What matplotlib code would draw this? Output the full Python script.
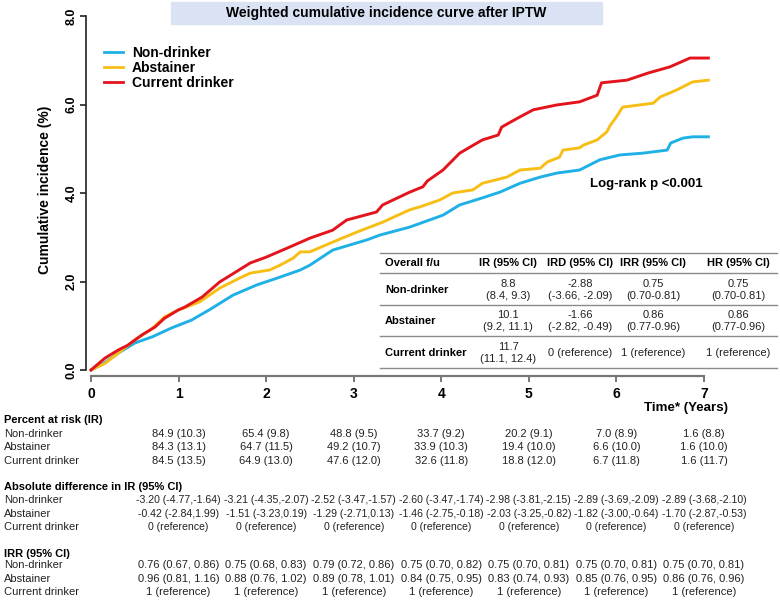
import matplotlib
matplotlib.use("Agg")
import matplotlib.pyplot as plt
from matplotlib.patches import Rectangle
from matplotlib.lines import Line2D
from matplotlib.transforms import blended_transform_factory

plt.rcParams['font.family'] = ['Liberation Sans', 'DejaVu Sans']

# curve readings (years, cumulative incidence %)
t_non = [0, 0.16, 0.31, 0.50, 0.70, 0.92, 1.15, 1.36, 1.62, 1.89, 2.16, 2.39, 2.50, 2.76,
         3.15, 3.30, 3.64, 4.02, 4.21, 4.47, 4.67, 4.90, 5.13, 5.32, 5.58, 5.81, 6.04,
         6.30, 6.58, 6.62, 6.76, 6.87, 7.05]
y_non = [0, 0.17, 0.38, 0.61, 0.75, 0.95, 1.13, 1.37, 1.69, 1.92, 2.10, 2.26, 2.37, 2.71,
         2.94, 3.05, 3.23, 3.50, 3.73, 3.89, 4.02, 4.22, 4.36, 4.45, 4.52, 4.75, 4.86,
         4.90, 4.97, 5.13, 5.24, 5.27, 5.27]

t_abs = [0, 0.16, 0.31, 0.50, 0.70, 0.84, 0.99, 1.15, 1.24, 1.47, 1.70, 1.82, 2.04, 2.16,
         2.31, 2.39, 2.50, 2.76, 3.04, 3.33, 3.64, 3.76, 3.98, 4.13, 4.36, 4.47, 4.75,
         4.90, 5.13, 5.21, 5.35, 5.39, 5.58, 5.62, 5.78, 5.89, 5.93, 6.00, 6.07, 6.42,
         6.50, 6.69, 6.87, 7.05]
y_abs = [0, 0.15, 0.38, 0.68, 0.94, 1.20, 1.35, 1.47, 1.54, 1.85, 2.08, 2.19, 2.26, 2.37,
         2.53, 2.67, 2.67, 2.89, 3.12, 3.34, 3.62, 3.69, 3.84, 4.00, 4.07, 4.22, 4.36,
         4.52, 4.56, 4.70, 4.81, 4.97, 5.02, 5.08, 5.20, 5.38, 5.53, 5.72, 5.94, 6.03,
         6.17, 6.33, 6.51, 6.55]

t_cur = [0, 0.16, 0.31, 0.42, 0.58, 0.73, 0.84, 1.00, 1.07, 1.27, 1.47, 1.82, 2.00, 2.27,
         2.50, 2.76, 2.92, 3.26, 3.33, 3.64, 3.79, 3.84, 4.02, 4.21, 4.33, 4.47, 4.65,
         4.69, 4.87, 5.05, 5.32, 5.58, 5.78, 5.83, 6.12, 6.36, 6.61, 6.84, 7.05]
y_cur = [0, 0.27, 0.45, 0.56, 0.79, 0.97, 1.17, 1.36, 1.42, 1.65, 1.99, 2.42, 2.55, 2.78,
         2.98, 3.16, 3.39, 3.57, 3.73, 4.02, 4.14, 4.27, 4.52, 4.90, 5.04, 5.20, 5.31,
         5.49, 5.69, 5.88, 5.99, 6.06, 6.21, 6.49, 6.55, 6.71, 6.85, 7.05, 7.05]

groups = ['Non-drinker', 'Abstainer', 'Current drinker']
colors = ['#1FB1E6', '#F7BE16', '#E3141C']

years = [1, 2, 3, 4, 5, 6, 7]

# overall table
tbl_header = ['Overall f/u', 'IR (95% CI)', 'IRD (95% CI)', 'IRR (95% CI)', 'HR (95% CI)']
tbl_ir = ['8.8\n(8.4, 9.3)', '10.1\n(9.2, 11.1)', '11.7\n(11.1, 12.4)']
tbl_ird = ['-2.88\n(-3.66, -2.09)', '-1.66\n(-2.82, -0.49)', '0 (reference)']
tbl_irr = ['0.75\n(0.70-0.81)', '0.86\n(0.77-0.96)', '1 (reference)']
tbl_hr = ['0.75\n(0.70-0.81)', '0.86\n(0.77-0.96)', '1 (reference)']

# tables under the plot
risk_non = ['84.9 (10.3)', '65.4 (9.8)', '48.8 (9.5)', '33.7 (9.2)', '20.2 (9.1)', '7.0 (8.9)', '1.6 (8.8)']
risk_abs = ['84.3 (13.1)', '64.7 (11.5)', '49.2 (10.7)', '33.9 (10.3)', '19.4 (10.0)', '6.6 (10.0)', '1.6 (10.0)']
risk_cur = ['84.5 (13.5)', '64.9 (13.0)', '47.6 (12.0)', '32.6 (11.8)', '18.8 (12.0)', '6.7 (11.8)', '1.6 (11.7)']

diff_non = ['-3.20 (-4.77,-1.64)', '-3.21 (-4.35,-2.07)', '-2.52 (-3.47,-1.57)', '-2.60 (-3.47,-1.74)',
            '-2.98 (-3.81,-2.15)', '-2.89 (-3.69,-2.09)', '-2.89 (-3.68,-2.10)']
diff_abs = ['-0.42 (-2.84,1.99)', '-1.51 (-3.23,0.19)', '-1.29 (-2.71,0.13)', '-1.46 (-2.75,-0.18)',
            '-2.03 (-3.25,-0.82)', '-1.82 (-3.00,-0.64)', '-1.70 (-2.87,-0.53)']
diff_cur = ['0 (reference)'] * 7

irr_non = ['0.76 (0.67, 0.86)', '0.75 (0.68, 0.83)', '0.79 (0.72, 0.86)', '0.75 (0.70, 0.82)',
           '0.75 (0.70, 0.81)', '0.75 (0.70, 0.81)', '0.75 (0.70, 0.81)']
irr_abs = ['0.96 (0.81, 1.16)', '0.88 (0.76, 1.02)', '0.89 (0.78, 1.01)', '0.84 (0.75, 0.95)',
           '0.83 (0.74, 0.93)', '0.85 (0.76, 0.95)', '0.86 (0.76, 0.96)']
irr_cur = ['1 (reference)'] * 7

W, H = 780, 601
fig = plt.figure(figsize=(W / 100, H / 100), dpi=100)


def fx(px):
    return px / W


def fy(py):
    return 1 - py / H


ax = fig.add_axes([fx(86), fy(376), fx(712) - fx(86), fy(14) - fy(376)])
ax.set_xlim(-5 / 87.57, (712 - 91) / 87.57)
ax.set_ylim(-6 / 44.25, (370 - 14) / 44.25)

for t, y, c, g in zip([t_non, t_abs, t_cur], [y_non, y_abs, y_cur], colors, groups):
    ax.plot(t, y, color=c, lw=2.1, label=g)

for s in ['top', 'right']:
    ax.spines[s].set_visible(False)
ax.spines['left'].set_bounds(0, 8)
ax.spines['bottom'].set_bounds(0, 7)
ax.spines['left'].set_color('#222222')
ax.spines['bottom'].set_color('#777777')
ax.spines['left'].set_linewidth(1.2)
ax.spines['bottom'].set_linewidth(1.6)

ax.set_yticks([0, 2, 4, 6, 8])
ax.set_yticklabels(['0.0', '2.0', '4.0', '6.0', '8.0'], rotation=90, va='center',
                   fontweight='bold', fontsize=9)
ax.set_xticks([0] + years)
ax.set_xticklabels([str(v) for v in [0] + years], fontweight='bold', fontsize=10)
ax.tick_params(axis='y', direction='out', length=4, width=1.2, color='#222222', pad=2)
ax.tick_params(axis='x', direction='out', length=4, width=1.4, color='#777777', pad=4)

leg = ax.legend(loc='upper left', bbox_to_anchor=(fx(104), fy(46)), bbox_transform=fig.transFigure,
                frameon=False, borderpad=0, borderaxespad=0, handlelength=1.4,
                handletextpad=0.6, labelspacing=0.08, prop={'weight': 'bold', 'size': 10})
for h in leg.get_lines():
    h.set_linewidth(2.0)

# title box
fig.patches.append(Rectangle((fx(171), fy(24)), fx(602) - fx(171), fy(2) - fy(24),
                             transform=fig.transFigure, color='#DAE3F3', zorder=0))
fig.text(fx(386), fy(13), 'Weighted cumulative incidence curve after IPTW', ha='center',
         va='center', fontweight='bold', fontsize=10)

fig.text(fx(45), fy(190), 'Cumulative incidence (%)', rotation=90, ha='center', va='center',
         fontweight='bold', fontsize=10)
fig.text(fx(590), fy(184), 'Log-rank p <0.001', ha='left', va='center', fontweight='bold', fontsize=9.5)
fig.text(fx(686), fy(408), 'Time* (Years)', ha='center', va='center', fontweight='bold', fontsize=9.6)

# overall table in the plot
for py in [253, 273, 305, 336, 368]:
    fig.add_artist(Line2D([fx(380), fx(777)], [fy(py), fy(py)], color='#8a8a8a', lw=1.0))
col_x = [508, 580, 653, 738]
fig.text(fx(385), fy(263), tbl_header[0], ha='left', va='center', fontweight='bold', fontsize=8)
for cx, h in zip(col_x, tbl_header[1:]):
    fig.text(fx(cx), fy(263), h, ha='center', va='center', fontweight='bold', fontsize=8)
row_y = [290, 321, 353]
for i, g in enumerate(groups):
    fig.text(fx(385), fy(row_y[i]), g, ha='left', va='center', fontweight='bold', fontsize=8)
    for cx, col in zip(col_x, [tbl_ir, tbl_ird, tbl_irr, tbl_hr]):
        fig.text(fx(cx), fy(row_y[i]), col[i], ha='center', va='center', fontsize=8,
                 linespacing=1.15, color='#222222')

# tables under the plot
tr = blended_transform_factory(ax.transData, fig.transFigure)
sections = [
    ('Percent at risk (IR)', 420, [434, 447, 461], [risk_non, risk_abs, risk_cur], 8),
    ('Absolute difference in IR (95% CI)', 487, [500, 514, 527], [diff_non, diff_abs, diff_cur], 7.6),
    ('IRR (95% CI)', 554, [565, 579, 592], [irr_non, irr_abs, irr_cur], 8),
]
for title, ty, rys, rows, fs in sections:
    fig.text(fx(4), fy(ty), title, ha='left', va='center', fontweight='bold', fontsize=8)
    for g, ry, vals in zip(groups, rys, rows):
        fig.text(fx(4), fy(ry), g, ha='left', va='center', fontsize=8, color='#222222')
        for yr, v in zip(years, vals):
            ax.text(yr, fy(ry), v, transform=tr, ha='center', va='center', fontsize=fs,
                    color='#222222', clip_on=False)

fig.savefig('out.png', dpi=100)
